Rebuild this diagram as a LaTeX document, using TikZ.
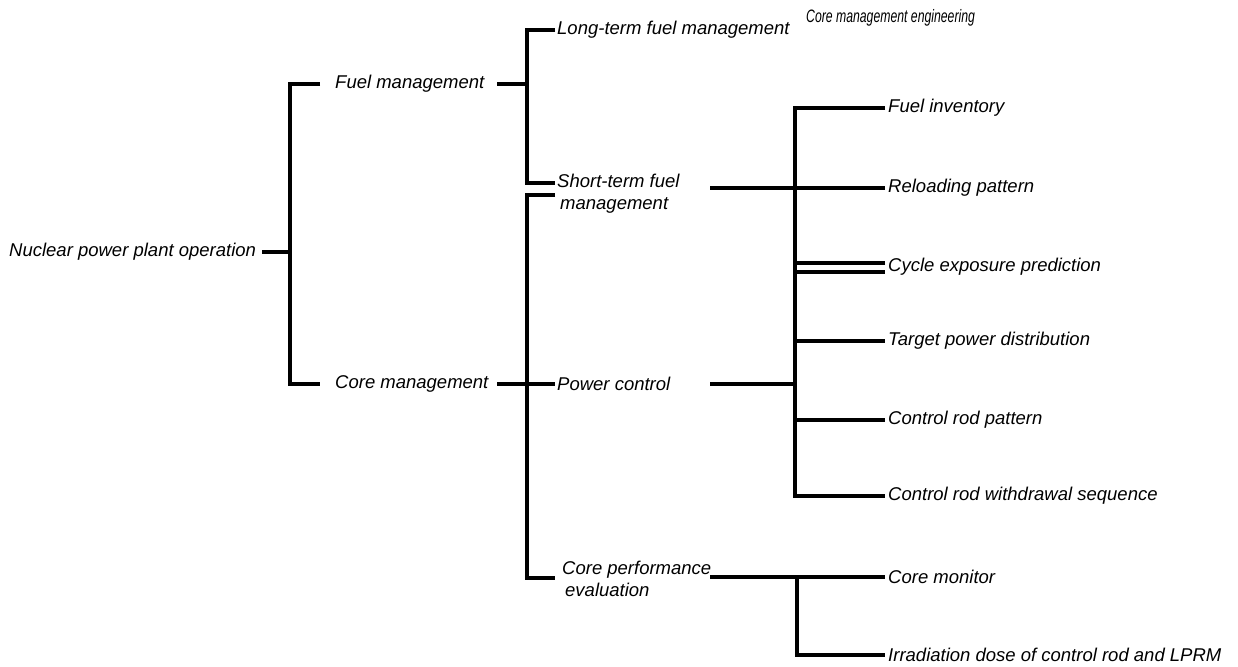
\documentclass[tikz,border=0pt]{standalone}
\usepackage{fontspec}
\setmainfont{Liberation Sans}
\newfontfamily\narrowfont[FakeStretch=0.68]{Liberation Sans}
\begin{document}
\begin{tikzpicture}[x=1pt,y=-1pt,
  conn/.style={line width=3.2pt, line join=miter, line cap=butt},
  lbl/.style={font=\fontsize{18.5}{22}\selectfont\itshape, inner sep=0pt, anchor=west, align=left},
  ttl/.style={font=\narrowfont\fontsize{18}{20}\selectfont\itshape, inner sep=0pt, anchor=west}]
\useasboundingbox (0,0) rectangle (1238,666);

% title
\node[ttl] (title) at (806,18) {Core management engineering};

% level 0 / 1
\node[lbl] (root) at (9,252) {Nuclear power plant operation};
\node[lbl] (fuel) at (335,84) {Fuel management};
\node[lbl] (core) at (335,384) {Core management};

% level 2
\node[lbl] (long) at (557,30) {Long-term fuel management};
\node[lbl,anchor=north west] (short) at (557,174) {Short-term fuel\\\hspace*{3pt}management};
\node[lbl] (power) at (557,384) {Power control};
\node[lbl,anchor=north west] (perf) at (562,561) {Core performance\\\hspace*{3pt}evaluation};

% level 3
\node[lbl] (inv)   at (888,108) {Fuel inventory};
\node[lbl] (rel)   at (888,188) {Reloading pattern};
\node[lbl] (cyc)   at (888,267) {Cycle exposure prediction};
\node[lbl] (tgt)   at (888,341) {Target power distribution};
\node[lbl] (crp)   at (888,420) {Control rod pattern};
\node[lbl] (crw)   at (888,496) {Control rod withdrawal sequence};
\node[lbl] (mon)   at (888,577) {Core monitor};
\node[lbl] (irr)   at (888,655) {Irradiation dose of control rod and LPRM};

% junction coordinates
\coordinate (b1) at (290,252);
\coordinate (b2) at (527,84);
\coordinate (b3) at (527,384);
\coordinate (fuelout) at (497,84);
\coordinate (coreout) at (497,384);
\coordinate (fuelin) at (320,84);
\coordinate (corein) at (320,384);
\coordinate (longin) at (555,30);
\coordinate (shortin) at (555,183);
\coordinate (c3top) at (555,195);
\coordinate (powerin) at (555,384);
\coordinate (perfin) at (555,578);
\coordinate (shortout) at (710,188);
\coordinate (powerout) at (710,384);
\coordinate (perfout) at (710,577);
\coordinate (b4) at (795,188);
\coordinate (b5) at (795,384);
\coordinate (b6) at (797,577);

% connectors
\draw[conn] ([xshift=6pt]root.east) -- (b1);
\draw[conn] (fuelin) -| (b1) |- (corein);
\draw[conn] (fuelout) -- (b2);
\draw[conn] (longin) -| (b2) |- (shortin);
\draw[conn] (coreout) -- (powerin);
\draw[conn] (c3top) -| (b3) |- (perfin);

\draw[conn] (shortout) -- ([xshift=-3pt]rel.west);
\draw[conn] ([xshift=-3pt]inv.west) -| (b4) |- ([xshift=-3pt,yshift=-5pt]cyc.west);

\draw[conn] (powerout) -- (b5);
\draw[conn] ([xshift=-3pt,yshift=4pt]cyc.west) -| (b5) |- ([xshift=-3pt]crw.west);
\draw[conn] (b5 |- tgt.west) -- ([xshift=-3pt]tgt.west);
\draw[conn] (b5 |- crp.west) -- ([xshift=-3pt]crp.west);

\draw[conn] (perfout) -- ([xshift=-3pt]mon.west);
\draw[conn] (b6) |- ([xshift=-3pt]irr.west);
\end{tikzpicture}
\end{document}
